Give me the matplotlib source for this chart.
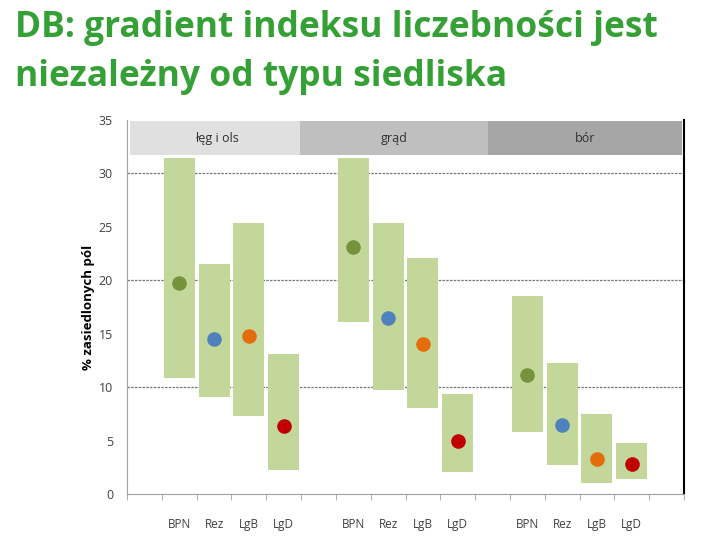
import matplotlib
matplotlib.use("Agg")
import matplotlib.pyplot as plt
import numpy as np

# ---- data ----
habitats = ["łęg i ols", "grąd", "bór"]
indices = ["BPN", "Rez", "LgB", "LgD"]
tick_labels = ["", "BPN", "Rez", "LgB", "LgD", "", "BPN", "Rez", "LgB", "LgD",
               "", "BPN", "Rez", "LgB", "LgD", ""]
# range (low, high) and central value for each habitat x index
low_leg = [10.85, 9.1, 7.3, 2.25]
high_leg = [31.4, 21.5, 25.4, 13.1]
mid_leg = [19.7, 14.5, 14.8, 6.4]
low_grad = [16.1, 9.7, 8.05, 2.05]
high_grad = [31.4, 25.4, 22.1, 9.35]
mid_grad = [23.1, 16.5, 14.0, 4.95]
low_bor = [5.8, 2.7, 1.05, 1.4]
high_bor = [18.5, 12.25, 7.5, 4.75]
mid_bor = [11.1, 6.45, 3.25, 2.8]

dot_colors = ["#76923c", "#4f81bd", "#e46c0a", "#c00000"]
bar_color = "#c4d79b"
band_colors = ["#e0e0e0", "#bfbfbf", "#a6a6a6"]
band_spans = [(-0.41, 4.56), (4.47, 9.87), (9.87, 15.45)]

fig = plt.figure(figsize=(7.2, 5.44), dpi=100)
ax = fig.add_axes([127/720, 50/544, (684-127)/720, (494-120)/544])

lows = [low_leg, low_grad, low_bor]
highs = [high_leg, high_grad, high_bor]
mids = [mid_leg, mid_grad, mid_bor]
for g in range(3):
    xs = np.arange(4) + 1 + 5 * g
    lo = np.array(lows[g]); hi = np.array(highs[g])
    ax.bar(xs, hi - lo, bottom=lo, width=0.89, color=bar_color, zorder=2)
    for k in range(4):
        ax.plot(xs[k], mids[g][k], "o", color=dot_colors[k], markersize=10.5,
                markeredgewidth=0, zorder=3)

for (x0, x1), c, name in zip(band_spans, band_colors, habitats):
    ax.add_patch(plt.Rectangle((x0, 31.7), x1 - x0, 3.2, color=c, zorder=1, lw=0))
    ax.text((x0 + x1) / 2, 33.3, name, ha="center", va="center", fontsize=9,
            family="Open Sans", color="#303030", zorder=4)

for yv in [10, 20, 30]:
    ax.axhline(yv, color="#777777", lw=0.9, ls=(0, (2, 1)), zorder=1)

ax.set_xlim(-0.5, 15.5)
ax.set_ylim(0, 35)
ax.set_xticks(np.arange(16))
ax.set_xticklabels(tick_labels, family="Open Sans", fontsize=8.5, color="#404040")
ax.set_xticks(np.arange(17) - 0.5, minor=True)
ax.tick_params(axis="x", which="major", length=0, pad=17)
ax.tick_params(axis="x", which="minor", length=4, color="#a0a0a0", direction="out")
ax.set_yticks(np.arange(0, 36, 5))
ax.set_yticklabels([str(v) for v in range(0, 36, 5)], family="Open Sans",
                   fontsize=9, color="#404040")
ax.set_yticks([0, 10, 20, 30], minor=True)
ax.tick_params(axis="y", which="major", length=0, pad=10)
ax.tick_params(axis="y", which="minor", length=4, color="#a0a0a0", direction="out")

ax.spines["top"].set_visible(False)
ax.spines["left"].set_color("#a0a0a0")
ax.spines["bottom"].set_color("#a0a0a0")
ax.spines["right"].set_color("black")
ax.spines["right"].set_linewidth(1.5)

ax.set_ylabel("% zasiedlonych pól", family="Open Sans", fontweight="bold",
              fontsize=9.5, color="black", labelpad=3)

fig.text(15/720, 1 - 37/544, "DB: gradient indeksu liczebności jest",
         fontsize=25.5, fontweight="bold", color="#35a035", family="Open Sans",
         ha="left", va="baseline")
fig.text(15/720, 1 - 86/544, "niezależny od typu siedliska",
         fontsize=25.5, fontweight="bold", color="#35a035", family="Open Sans",
         ha="left", va="baseline")

fig.savefig("out.png", dpi=100)
